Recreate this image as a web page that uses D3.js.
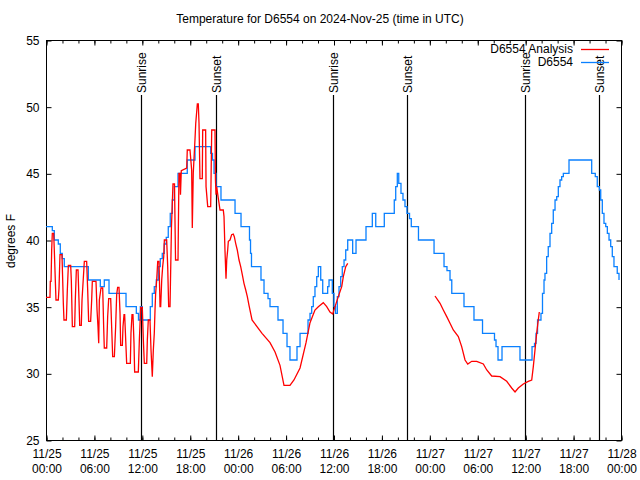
<!DOCTYPE html>
<html>
<head>
<meta charset="utf-8">
<script src="https://cdn.jsdelivr.net/npm/d3@7"></script>
<style>
  html, body { margin: 0; padding: 0; background: #fff; }
  svg { display: block; }
  text { font-family: "Liberation Sans", Arial, sans-serif; font-size: 12px; fill: #000; }
</style>
</head>
<body>
<svg id="chart" width="640" height="480"></svg>
<script>
// ---- data (hours since 2024-11-25 00:00 UTC) ----
const titleText = "Temperature for D6554 on 2024-Nov-25 (time in UTC)";
const yLabel = "degrees F";
const seriesNames = ["D6554 Analysis", "D6554"];
const seriesColors = ["#ff0000", "#0a80ff"];

const blueHours = [0, 0.79, 1.04, 1.54, 1.79, 2.04, 2.29, 5.30, 6.80, 7.30, 7.89, 10.02, 11.31, 11.58, 11.81, 12.06,
  13.06, 13.31, 13.56, 13.81, 14.06, 14.31, 14.56, 14.81, 15.06, 15.31, 15.56, 15.82, 16.07, 16.53, 17.69, 18.66,
  20.62, 20.85, 21.04, 21.29, 21.91, 23.67, 24.42, 25.48, 25.61, 25.73, 26.92, 27.30, 27.80, 28.05, 29.05, 29.68,
  30.18, 30.55, 31.43, 31.81, 32.81, 33.06, 33.27, 33.47, 33.68, 33.90, 34.10, 34.40, 34.65, 35.27, 35.44, 35.85,
  36.06, 36.25, 36.48, 36.69, 36.90, 37.10, 37.32, 37.53, 37.78, 38.40, 38.82, 40.07, 40.86, 41.29, 42.36, 43.61,
  43.79, 43.99, 44.17, 44.45, 44.70, 44.95, 45.20, 45.52, 45.74, 46.64, 48.59, 49.84, 50.21, 50.59, 50.81, 52.34,
  53.59, 54.66, 56.16, 56.35, 56.60, 57.10, 59.35, 60.86, 61.17, 61.36, 61.55, 61.98, 62.17, 62.36, 62.48, 62.69,
  62.89, 63.11, 63.32, 63.52, 63.74, 63.95, 64.15, 64.36, 64.57, 64.78, 65.49, 68.33, 68.78, 69.03, 69.29, 69.46,
  69.66, 69.87, 70.09, 70.29, 70.50, 70.71, 70.91, 71.12, 71.53, 71.75];
const blueTemps = [41, 40.7, 40, 39.7, 39, 38.6, 38, 37, 36.5, 37, 36, 35, 34.5, 34, 35, 34,
  35, 36, 36.5, 37, 38, 38.6, 39, 39.7, 40.2, 41, 42, 43, 44, 45, 46, 47,
  46.5, 46, 45, 44, 43, 42, 41, 40, 39, 38, 37, 36, 35.6, 35, 34, 33,
  32, 31, 32, 33, 34, 34.5, 35, 35.75, 36.5, 37.25, 38, 37, 36, 36.5, 37, 36,
  35, 34.5, 35.75, 36.5, 37.25, 38, 38.5, 39.25, 40, 39, 40, 41, 42, 41, 42, 43,
  44, 45, 44.25, 43.5, 43, 42.5, 42, 41.6, 41, 40, 39, 38, 37.7, 37, 36, 35,
  34, 33, 32.5, 32, 31, 32, 31, 32, 32.25, 33, 34, 34.5, 36, 37, 37.5, 38.75,
  39.5, 40.5, 41.25, 42.25, 43, 43.25, 44, 44.5, 44.75, 45, 46, 45, 44.75, 44, 43.75, 43,
  42, 41.25, 41, 40.5, 40, 39.5, 38.75, 38, 37.5, 37];

const redHours = [0, 0.50, 0.54, 0.63, 0.71, 0.79, 0.96, 1.04, 1.17, 1.25, 1.54, 1.63, 1.75, 2.00, 2.09, 2.17,
  2.25, 2.55, 2.67, 2.80, 3.09, 3.17, 3.30, 3.59, 3.67, 3.80, 4.01, 4.13, 4.22, 4.42, 4.51, 4.80,
  5.09, 5.22, 5.34, 5.59, 5.72, 5.80, 6.26, 6.39, 6.51, 6.60, 6.68, 6.89, 7.10, 7.22, 7.30, 7.60,
  7.72, 7.85, 8.10, 8.22, 8.35, 8.56, 8.72, 8.85, 8.97, 9.14, 9.27, 9.35, 9.56, 9.64, 9.77, 9.85,
  9.98, 10.10, 10.56, 10.64, 10.77, 10.89, 11.02, 11.10, 11.56, 11.69, 11.86, 12.06, 12.19, 12.31, 12.61, 12.69,
  12.81, 13.02, 13.15, 13.31, 13.44, 13.56, 13.65, 13.73, 13.86, 13.99, 14.15, 14.28, 14.36, 14.49, 14.61, 14.74,
  14.82, 15.11, 15.24, 15.36, 15.53, 15.71, 15.90, 16.09, 16.22, 16.53, 16.65, 16.78, 16.84, 16.94, 17.62, 17.69,
  18.03, 18.24, 18.32, 18.44, 18.66, 18.75, 18.95, 19.07, 19.16, 19.28, 19.57, 19.62, 19.99, 20.04, 20.25, 20.62,
  20.75, 21.16, 21.22, 21.29, 21.37, 21.58, 21.79, 22.20, 22.29, 22.41, 22.54, 22.63, 22.75, 22.83, 23.04, 23.25,
  23.45, 23.58, 23.75, 23.95, 24.17, 24.38, 24.58, 24.79, 25.01, 25.21, 25.42, 25.80, 27.05, 28.05, 28.68, 29.30,
  29.80, 30.55, 31.05, 31.81, 32.56, 33.06, 33.68, 34.10, 34.72, 35.15, 35.56, 35.90, 36.19, 36.60, 37.03, 37.23,
  37.53, 37.78, 43.0, 48.71, 49.34, 49.75, 50.18, 50.59, 51.00, 51.63, 52.05, 52.47, 52.81, 53.31, 53.93, 54.76,
  55.19, 55.81, 56.85, 57.69, 58.31, 58.73, 59.14, 59.77, 60.39, 60.82, 61.02, 61.23, 61.44, 61.64, 61.77];
const redTemps = [35.7, 35.7, 36.9, 36.9, 39.25, 40.5, 40.5, 39.25, 36.9, 35.5, 35.5, 36.4, 38.9, 38.9, 37, 35.25,
  34, 34, 36.25, 38.1, 38.1, 37, 33.5, 33.5, 35.5, 37.75, 37.75, 35.5, 33.6, 33.6, 35.5, 38.4,
  38.4, 36.25, 33.9, 33.9, 35.5, 36.9, 36.9, 34.75, 33.5, 32.25, 35.5, 36.4, 36.4, 33.5, 31.9, 31.9,
  34.25, 35.6, 35.6, 33.5, 31.25, 31.25, 33.5, 35.9, 36.45, 36.45, 34.5, 32.1, 32.1, 33.5, 34.4, 34.4,
  32.5, 30.75, 30.75, 33, 34.4, 34.4, 32.25, 30.1, 30.1, 32.5, 34.95, 34.95, 32.5, 30.75, 30.75, 32.5,
  34, 34, 31.75, 29.75, 31.75, 33, 34.75, 36, 37, 38.4, 38.4, 35, 35, 37, 38, 38.75,
  40, 40, 38, 35, 35, 41, 44.2, 44.2, 38.5, 38.5, 45, 45, 43.4, 45.2, 45.4, 46.75,
  46.75, 45.25, 40.9, 45, 47.6, 48.75, 50.2, 50.2, 48.75, 44.6, 44.6, 48.25, 48.25, 44, 42.5, 42.5,
  48.25, 48.25, 44.5, 43.4, 44, 43.1, 42.25, 42.25, 41.75, 39.25, 37.1, 38.5, 39.25, 39.9, 40, 40.4,
  40.45, 40.25, 39.75, 39.25, 38.5, 38, 37.4, 36.75, 36.25, 35.75, 35.1, 34, 33, 32.3, 31.6, 30.6,
  29.1, 29.1, 29.5, 30.4, 32.3, 33.8, 34.75, 35, 35.3, 35, 34.6, 34.45, 35, 35.75, 36.5, 37.25,
  38, 38.25, null, 35.8, 35.25, 34.75, 34.25, 33.75, 33.25, 32.75, 32, 31, 30.7, 30.9, 30.9, 30.7,
  30.25, 29.8, 29.75, 29.4, 28.9, 28.6, 28.9, 29.2, 29.4, 29.5, 30.5, 31.75, 33, 34, 34.6];

const sunHours = [11.93, 21.33, 35.98, 45.24, 60.02, 69.28];
const sunLabels = ["Sunrise", "Sunset", "Sunrise", "Sunset", "Sunrise", "Sunset"];

const yTicks = [25, 30, 35, 40, 45, 50, 55];
const xMajorHours = [0, 6, 12, 18, 24, 30, 36, 42, 48, 54, 60, 66, 72];
const xMinorHours = d3.range(0, 73, 2);
const startMs = Date.UTC(2024, 10, 25, 0, 0);

// ---- chart ----
const toDate = h => new Date(startMs + h * 3600e3);
const W = 640, H = 480;
const m = { left: 46, right: 19, top: 40, bottom: 40 };
const svg = d3.select("#chart");

const x = d3.scaleUtc().domain([toDate(0), toDate(72)]).range([m.left, W - m.right]);
const y = d3.scaleLinear().domain([25, 55]).range([H - m.bottom, m.top]);

const fmtDay = d3.utcFormat("%m/%d");
const fmtTime = d3.utcFormat("%H:%M");

// frame
svg.append("rect")
  .attr("x", m.left + 0.5).attr("y", m.top + 0.5)
  .attr("width", x.range()[1] - m.left).attr("height", y.range()[0] - m.top)
  .attr("fill", "none").attr("stroke", "#000").attr("stroke-width", 1);

// axes
const gB = svg.append("g").attr("transform", `translate(0.5,${y(25) + 0.5})`);
gB.call(d3.axisBottom(x).tickValues(xMinorHours.map(toDate)).tickSizeInner(-3).tickSizeOuter(0).tickFormat(""));
const gBM = svg.append("g").attr("transform", `translate(0.5,${y(25) + 0.5})`);
gBM.call(d3.axisBottom(x).tickValues(xMajorHours.map(toDate)).tickSizeInner(-5).tickSizeOuter(0).tickPadding(10));
gBM.selectAll(".tick text").each(function(d) {
  const t = d3.select(this);
  t.text(null).attr("y", 0).attr("dy", null);
  t.append("tspan").attr("x", 0).attr("y", 17).text(fmtDay(d));
  t.append("tspan").attr("x", 0).attr("y", 32).text(fmtTime(d));
});
const gT = svg.append("g").attr("transform", `translate(0.5,${m.top + 0.5})`);
gT.call(d3.axisTop(x).tickValues(xMinorHours.map(toDate)).tickSizeInner(-3).tickSizeOuter(0).tickFormat(""));
const gTM = svg.append("g").attr("transform", `translate(0.5,${m.top + 0.5})`);
gTM.call(d3.axisTop(x).tickValues(xMajorHours.map(toDate)).tickSizeInner(-5).tickSizeOuter(0).tickFormat(""));
const gL = svg.append("g").attr("transform", `translate(${m.left + 0.5},0.5)`);
gL.call(d3.axisLeft(y).tickValues(yTicks).tickSizeInner(-5).tickSizeOuter(0).tickPadding(7));
const gR = svg.append("g").attr("transform", `translate(${x.range()[1] + 0.5},0.5)`);
gR.call(d3.axisRight(y).tickValues(yTicks).tickSizeInner(-5).tickSizeOuter(0).tickFormat(""));
svg.selectAll(".domain").remove();
svg.selectAll(".tick line").attr("stroke", "#000");
svg.selectAll(".tick text").attr("font-size", null).attr("font-family", null).attr("fill", "#000");
svg.selectAll("g").attr("font-size", null).attr("font-family", null);

// sunrise / sunset
const sun = svg.append("g");
sunHours.forEach((h, i) => {
  const sx = Math.round(x(toDate(h))) + 0.5;
  sun.append("line").attr("x1", sx).attr("x2", sx).attr("y1", 95).attr("y2", y(25))
    .attr("stroke", "#000").attr("stroke-width", 1.2);
  sun.append("text").attr("transform", `translate(${sx + 4.5},93) rotate(-90)`)
    .attr("text-anchor", "start").text(sunLabels[i]);
});

// series
const blueData = blueHours.map((h, i) => ({ t: toDate(h), v: blueTemps[i] }));
const redData = redHours.map((h, i) => ({ t: toDate(h), v: redTemps[i] }));

svg.append("path").datum(blueData)
  .attr("fill", "none").attr("stroke", seriesColors[1]).attr("stroke-width", 1.3)
  .attr("d", d3.line().x(d => x(d.t)).y(d => y(d.v)).curve(d3.curveStepAfter));

svg.append("path").datum(redData)
  .attr("fill", "none").attr("stroke", seriesColors[0]).attr("stroke-width", 1.3)
  .attr("d", d3.line().defined(d => d.v !== null).x(d => x(d.t)).y(d => y(d.v)));

// title & labels
svg.append("text").attr("x", 320).attr("y", 23).attr("text-anchor", "middle").text(titleText);
svg.append("text").attr("transform", `translate(15,241) rotate(-90)`).attr("text-anchor", "middle").text(yLabel);

// legend
const leg = svg.append("g");
[0, 1].forEach(i => {
  const ly = 49 + i * 13;
  leg.append("text").attr("x", 573).attr("y", ly + 4).attr("text-anchor", "end").text(seriesNames[i]);
  leg.append("line").attr("x1", 581).attr("x2", 609).attr("y1", ly + 0.5).attr("y2", ly + 0.5)
    .attr("stroke", seriesColors[i]).attr("stroke-width", 1.3);
});
</script>
</body>
</html>
